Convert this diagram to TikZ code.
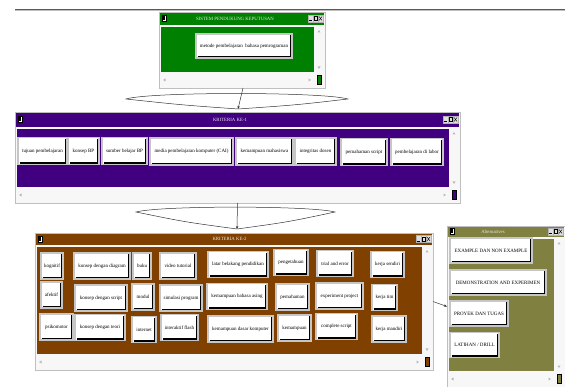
\documentclass[tikz,border=0pt]{standalone}
\usepackage{fontspec}
\setmainfont{Liberation Serif}
\usetikzlibrary{arrows.meta,calc,positioning}

\definecolor{spkgreen}{RGB}{0,128,0}
\definecolor{kritpurple}{RGB}{64,0,128}
\definecolor{kritbrown}{RGB}{128,64,0}
\definecolor{altolive}{RGB}{128,128,64}

% #1 name, #2 left, #3 top, #4 right, #5 bottom, #6 colour, #7 title, #8 title bar height, #9 title x
\newcommand{\drawwindow}[9]{%
  \pgfmathsetmacro{\wmid}{#3+#8/2}%
  \node[winframe, minimum width={(#4-#2)*1pt}, minimum height={(#5-#3)*1pt}, anchor=north west] (#1) at (#2,#3) {};
  \fill[#6] ({#2+1},{#3+1}) rectangle ({#4-1},{#3+#8});
  \fill[#6] ({#2+2},{#3+#8+2}) rectangle ({#4-11},{#5-16});
  \node[wintitle] at (#9,\wmid) {#7};
  \draw[fill=white, line width=0.4pt] ({#2+3},{\wmid-3}) rectangle ({#2+7},{\wmid+3});
  \fill ({#2+4},{\wmid-2}) rectangle ({#2+6},{\wmid+2});
  \draw[titlebtn] ({#4-17},{\wmid-3.5}) rectangle ({#4-12},{\wmid+3.5});
  \draw[titlebtn] ({#4-12},{\wmid-3.5}) rectangle ({#4-7},{\wmid+3.5});
  \draw[titlebtn] ({#4-7},{\wmid-3.5}) rectangle ({#4-2},{\wmid+3.5});
  \draw[line width=0.7pt] ({#4-16},{\wmid+2}) -- ({#4-13},{\wmid+2});
  \draw[line width=0.4pt] ({#4-11},{\wmid-2}) rectangle ({#4-8},{\wmid+2});
  \draw[line width=0.4pt] ({#4-6},{\wmid-2}) -- ({#4-3},{\wmid+2}) ({#4-6},{\wmid+2}) -- ({#4-3},{\wmid-2});
  \fill[scrollarrow] ({#4-6},{#3+#8+5}) -- ++(-1.5,2.5) -- ++(3,0) -- cycle;
  \fill[scrollarrow] ({#4-6},{#5-19}) -- ++(-1.5,-2.5) -- ++(3,0) -- cycle;
  \fill[scrollarrow] ({#2+4},{#5-8}) -- ++(2.5,-1.5) -- ++(0,3) -- cycle;
  \fill[scrollarrow] ({#4-14},{#5-8}) -- ++(-2.5,-1.5) -- ++(0,3) -- cycle;
  \draw[fill=#6, line width=0.3pt] ({#4-8},{#5-13}) rectangle ({#4-4},{#5-4});
}

\begin{document}
\begin{tikzpicture}[
    x=1pt, y=-1pt,
    winframe/.style={draw=gray!50, fill=gray!6, line width=0.6pt, inner sep=0pt, outer sep=0pt},
    wintitle/.style={text=white!85!gray, font=\fontsize{4.8}{5}\selectfont, inner sep=0pt},
    titlebtn/.style={draw=gray!60, fill=gray!25, line width=0.3pt},
    scrollarrow/.style={fill=gray!55},
    btn/.style={draw=gray!45, fill=white, line width=1.2pt, inner sep=0pt, minimum height=26pt,
        font=\fontsize{5}{6}\selectfont,
        path picture={\draw[black, line width=1.6pt]
            ([xshift=1.5pt,yshift=1.6pt]path picture bounding box.south west) --
            ([xshift=-1.6pt,yshift=1.6pt]path picture bounding box.south east) --
            ([xshift=-1.6pt,yshift=-1.5pt]path picture bounding box.north east);}},
    bw/.style={minimum width=#1pt},
    bh/.style={minimum height=#1pt},
    lens/.style={draw=black!80, line width=0.5pt},
    flow/.style={draw=black!80, line width=0.5pt, -{Stealth[length=3pt, width=2.5pt]}}
]
\useasboundingbox (0,0) rectangle (565,387);

\draw[gray!70!black, line width=0.8pt] (15,9.5) -- (565,9.5);
\draw[gray!50, line width=0.6pt] (15,10.6) -- (565,10.6);

\drawwindow{spk}{159}{12}{325}{88}{spkgreen}{SISTEM PENDUKUNG KEPUTUSAN}{13}{235}
\drawwindow{krit1}{15}{112}{460}{203}{kritpurple}{KRITERIA KE-1}{15}{230}
\drawwindow{krit2}{35}{233}{433}{370}{kritbrown}{KRITERIA KE-2}{12}{229.5}
\drawwindow{alt}{447}{226}{565}{387}{altolive}{Alternatives}{11}{493}

\node[btn, bw=96, bh=24] (metode) at (244,46) {metode pembelajaran\enspace bahasa pemrograman};

\node[btn, bw=49, bh=27] (tujuan) at (42.5,151) {tujuan pembelajaran};
\node[btn, bw=31, bh=27] (konsepBP) at (83.5,151) {konsep BP};
\node[btn, bw=45, bh=27] (sumber) at (124.5,151) {sumber belajar BP};
\node[btn, bw=83, bh=27] (media) at (191.5,151.5) {media pembelajaran komputer (CAI)};
\node[btn, bw=57, bh=27] (kemMhs) at (264.5,151.5) {kemampuan mahasiswa};
\node[btn, bw=41, bh=27] (integritas) at (315.5,151.5) {integritas dosen};
\node[btn, bw=46, bh=27] (pemScript) at (364,152) {pemahaman script};
\node[btn, bw=52, bh=27] (labor) at (417,152) {pembelajaran di labor};

\node[btn, bw=22] (kognitif) at (52,266) {kognitif};
\node[btn, bw=21] (afektif) at (51.5,295) {afektif};
\node[btn, bw=33] (psikomotor) at (56.5,327) {psikomotor};
\node[btn, bw=56] (kDiagram) at (102,266) {konsep dengan diagram};
\node[btn, bw=52] (kScript) at (101,298) {konsep dengan script};
\node[btn, bw=50] (kTeori) at (100,327.5) {konsep dengan teori};
\node[btn, bw=18] (buku) at (142,266) {buku};
\node[btn, bw=22] (modul) at (143,297) {modul};
\node[btn, bw=24] (internet) at (144,329.5) {internet};
\node[btn, bw=36] (video) at (178,266) {video tutorial};
\node[btn, bw=42] (simulasi) at (181,298) {simulasi program};
\node[btn, bw=37] (flash) at (179.5,327.5) {interaktif flash};
\node[btn, bw=60] (latar) at (238,264.5) {latar belakang pendidikan};
\node[btn, bw=60] (bahasa) at (237,296.5) {kemampuan bahasa asing};
\node[btn, bw=65] (dasar) at (240.5,329) {kemampuan dasar komputer};
\node[btn, bw=34] (pengetahuan) at (291,262.5) {pengetahuan};
\node[btn, bw=33] (pemahaman) at (292.5,297) {pemahaman};
\node[btn, bw=33] (kemampuan) at (294.5,328) {kemampuan};
\node[btn, bw=36] (trial) at (335,263.5) {trial and error};
\node[btn, bw=47] (experiment) at (339.5,296) {experiment project};
\node[btn, bw=41] (complete) at (336.5,326.5) {complete script};
\node[btn, bw=33] (sendiri) at (387.5,264.5) {kerja sendiri};
\node[btn, bw=25] (tim) at (384.5,297.5) {kerja tim};
\node[btn, bw=34] (mandiri) at (389,329) {kerja mandiri};

\node[btn, bw=82, bh=25] (example) at (491,250.5) {EXAMPLE DAN NON EXAMPLE};
\node[btn, bw=96, bh=25] (demo) at (498,282.5) {DEMONSTRATION AND EXPERIMEN};
\node[btn, bw=58, bh=25] (proyek) at (479,313.5) {PROYEK DAN TUGAS};
\node[btn, bw=49, bh=25] (latihan) at (474.5,345) {LATIHAN / DRILL};

\coordinate (tipA) at ($(krit1.north)+(0.5,-3)$);
\coordinate (lensAl) at (126,99);
\coordinate (lensAr) at (348,99);
\draw[lens] (tipA) .. controls (182,105) .. (lensAl) .. controls (150,91.7) and (322,91.7) .. (lensAr) .. controls (296,105) .. (tipA);
\draw[flow] ($(spk.south)+(1,0)$) -- (tipA);

\coordinate (tipB) at ($(krit2.north)+(3,-4)$);
\coordinate (lensBl) at (136,212);
\coordinate (lensBr) at (335,212);
\draw[lens] (tipB) .. controls (185,222) .. (lensBl) .. controls (160,205.5) and (310,205.5) .. (lensBr) .. controls (288,222) .. (tipB);
\draw[flow] (krit1.south) -- (tipB);

\draw[flow] (krit2.east) -- (alt.west);

\end{tikzpicture}
\end{document}
